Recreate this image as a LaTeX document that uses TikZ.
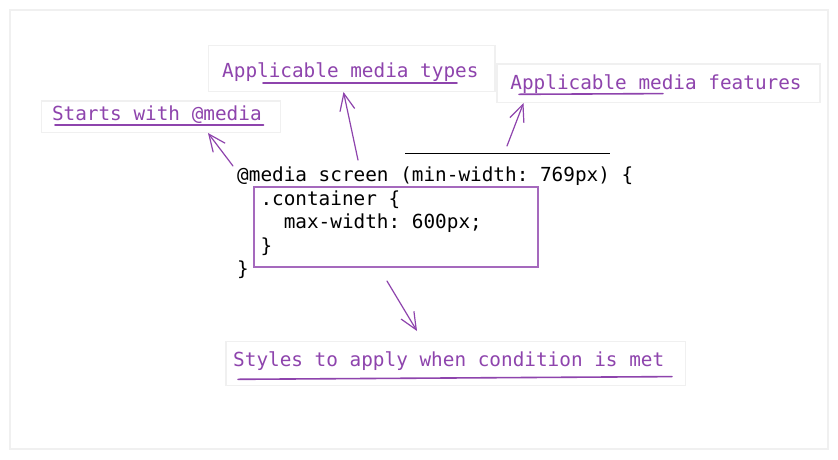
\documentclass[tikz,border=0pt]{standalone}
\usepackage{fontspec}
\setmonofont{DejaVu Sans Mono}
\usetikzlibrary{arrows.meta}
\definecolor{lblpurple}{HTML}{8E44AD}
\definecolor{boxpurple}{HTML}{A569BD}
\definecolor{framegray}{HTML}{F0F0F0}
\newcommand\mycodefont{\ttfamily\fontsize{19.35}{23.5}\selectfont}
\begin{document}
\begin{tikzpicture}[x=1pt,y=-1pt,
  codeline/.style={anchor=base west, inner sep=0pt, font=\mycodefont, text=black},
  lbltext/.style={anchor=base west, inner sep=0pt, font=\mycodefont, text=lblpurple},
  lblbox/.style={draw=framegray, line width=1.5pt, rectangle, inner sep=0pt, outer sep=0pt},
  uline/.style={draw=lblpurple, line width=1.6pt, line cap=round},
  callout/.style={draw=lblpurple, line width=1.2pt, line cap=round, -{Straight Barb[length=17pt,width=15pt,line width=1.2pt]}},
]
% canvas and outer frame
\fill[white] (0,0) rectangle (838,459);
\useasboundingbox (0,0) rectangle (838,459);
\draw[framegray, line width=2pt] (10,10) rectangle (828,449);

% label boxes
\node[lblbox, minimum width=239pt, minimum height=31.7pt] (startsbox) at (161.2,116.85) {};
\node[lblbox, minimum width=286.7pt, minimum height=46pt] (typesbox) at (351.65,68.7) {};
\node[lblbox, minimum width=323pt, minimum height=38.7pt] (featbox) at (658.5,83.35) {};
\node[lblbox, minimum width=459.7pt, minimum height=44pt] (stylesbox) at (455.85,363.7) {};

% label texts
\node[lbltext] (starts) at (51.8,120.7) {Starts with @media};
\node[lbltext] (types) at (222,77.7) {Applicable media types};
\node[lbltext] (feat) at (510.2,89.3) {Applicable media features};
\node[lbltext] (styles) at (233,366.7) {Styles to apply when condition is met};

% underlines
\draw[uline] (55,124.8) -- (263.5,124.8);
\draw[uline] (263,82.8) -- (457,82.8);
\draw[uline] (519,94.3) -- (663,93.6);
\draw[uline] (238,379.3) -- (672,376.6);

% code
\node[draw=boxpurple, line width=2pt, rectangle, inner sep=0pt, minimum width=283.7pt, minimum height=79.4pt] (codebox) at (395.85,227) {};
\node[codeline] (l1) at (237,181.7) {@media screen (min-width: 769px) \{};
\node[codeline] (l2) at (260.3,205.2) {.container \{};
\node[codeline] (l3) at (283.6,228.7) {max-width: 600px;};
\node[codeline] (l4) at (260.3,252.2) {\}};
\node[codeline] (l5) at (237,275.7) {\}};

% black rule above media features
\coordinate (ruleA) at (405,153.5);
\coordinate (ruleB) at (610,153.5);
\draw[black, line width=1.5pt] (ruleA) -- (ruleB);

% callout arrows
\coordinate (t1) at (233,166);
\coordinate (h1) at (208,133);
\coordinate (t2) at (358,160);
\coordinate (h2) at (343.5,92);
\coordinate (t3) at (507,146);
\coordinate (h3) at (523.5,103);
\coordinate (t4) at (387,281);
\coordinate (h4) at (417,331);
\draw[callout] (t1) -- (h1);
\draw[callout] (t2) -- (h2);
\draw[callout] (t3) -- (h3);
\draw[callout] (t4) -- (h4);
\end{tikzpicture}
\end{document}
